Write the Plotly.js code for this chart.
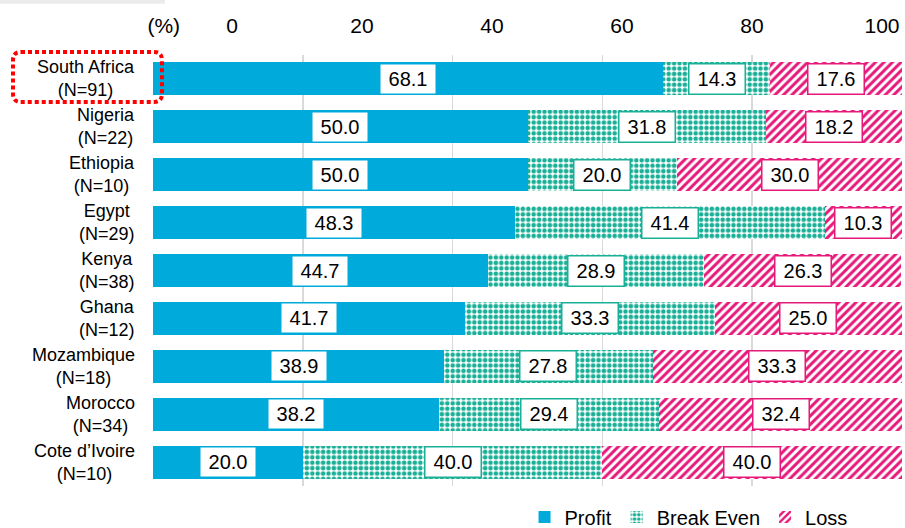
<!DOCTYPE html>
<html>
<head>
<meta charset="utf-8">
<script src="https://cdn.plot.ly/plotly-3.0.1.min.js"></script>
<style>html,body{margin:0;padding:0;background:#fff;}#chart{width:905px;height:528px;}</style>
</head>
<body>
<div id="chart"></div>
<script>
// ---- data ----
const countries = ["South Africa", "Nigeria", "Ethiopia", "Egypt", "Kenya", "Ghana", "Mozambique", "Morocco", "Cote d\u2019Ivoire"];
const sampleSizes = [91, 22, 10, 29, 38, 12, 18, 34, 10];
const profit = [68.1, 50.0, 50.0, 48.3, 44.7, 41.7, 38.9, 38.2, 20.0];
const breakEven = [14.3, 31.8, 20.0, 41.4, 28.9, 33.3, 27.8, 29.4, 40.0];
const loss = [17.6, 18.2, 30.0, 10.3, 26.3, 25.0, 33.3, 32.4, 40.0];
const seriesNames = ["Profit", "Break Even", "Loss"];
const tickValues = [0, 20, 40, 60, 80, 100];
const tickLabels = ["0", "20", "40", "60", "80", "100"];
const unitLabel = "(%)";

// ---- styling ----
const FONT = "Arial, 'Liberation Sans', sans-serif";
const cBlue = "#00AADB";
const cTeal = "#1AAF97";
const cPink = "#E6197A";

const cats = countries.map((c, i) => c + "<br>(N=" + sampleSizes[i] + ")");

const traces = [
  {type: "bar", orientation: "h", name: seriesNames[0], y: cats, x: profit,
   marker: {color: cBlue, line: {width: 0}}, hoverinfo: "skip"},
  {type: "bar", orientation: "h", name: seriesNames[1], y: cats, x: breakEven,
   marker: {color: cTeal, line: {width: 0},
            pattern: {shape: ".", fgcolor: cTeal, bgcolor: "#ffffff", size: 5.4, solidity: 0.55, fillmode: "replace"}},
   hoverinfo: "skip"},
  {type: "bar", orientation: "h", name: seriesNames[2], y: cats, x: loss,
   marker: {color: cPink, line: {width: 0},
            pattern: {shape: "/", fgcolor: cPink, bgcolor: "#ffffff", size: 6, solidity: 0.5, fillmode: "replace"}},
   hoverinfo: "skip"},
  // empty helper trace so the top (label) axis is drawn
  {type: "scatter", mode: "markers", x: [], y: [], xaxis: "x2", yaxis: "y",
   showlegend: false, hoverinfo: "skip"}
];

// value labels in boxes + category labels
const annotations = [];
const series = [profit, breakEven, loss];
const borders = [cBlue, cTeal, cPink];
cats.forEach((cat, i) => {
  let start = 0;
  series.forEach((s, k) => {
    const v = s[i];
    annotations.push({
      x: start + v / 2, y: cat, xref: "x", yref: "y",
      text: v.toFixed(1), showarrow: false,
      font: {family: FONT, size: 20, color: "#000"},
      bgcolor: "#ffffff", bordercolor: borders[k], borderwidth: 1.5, borderpad: 1,
      width: 53, height: 27, align: "center", valign: "middle"
    });
    start += v;
  });
  annotations.push({
    x: -0.0214, xref: "paper", xanchor: "right", y: cat, yref: "y", yanchor: "middle",
    text: cat, showarrow: false, align: "center",
    font: {family: FONT, size: 18, color: "#000"}
  });
});

// x2 axis: tick label positions as printed in the source chart
const x2ticks = [-10.5].concat(tickValues);
const x2text = [unitLabel].concat(tickLabels);

// dotted highlight box (paper coords)
const X0 = -0.1869, X1 = 0.012, Y0 = 0.891, Y1 = 1.007, RX = 0.0107, RY = 0.0186;
const hl = `M ${X0+RX},${Y1} L ${X1-RX},${Y1} Q ${X1},${Y1} ${X1},${Y1-RY} L ${X1},${Y0+RY} Q ${X1},${Y0} ${X1-RX},${Y0} L ${X0+RX},${Y0} Q ${X0},${Y0} ${X0},${Y0+RY} L ${X0},${Y1-RY} Q ${X0},${Y1} ${X0+RX},${Y1} Z`;

const layout = {
  width: 905, height: 528,
  margin: {l: 153, r: 3, t: 55, b: 42, autoexpand: false},
  paper_bgcolor: "#ffffff", plot_bgcolor: "#ffffff",
  font: {family: FONT, color: "#000"},
  barmode: "stack",
  bargap: 0.31,
  showlegend: true,
  legend: {orientation: "h", x: 0.715, xanchor: "center", yref: "container", y: 0.021, yanchor: "middle",
           font: {family: FONT, size: 20, color: "#000"}, traceorder: "normal", itemclick: false},
  xaxis: {range: [0, 100], tickvals: tickValues, showticklabels: false, ticks: "",
          showgrid: true, gridcolor: "#D9D9D9", gridwidth: 1.5, zeroline: false, showline: false, fixedrange: true},
  xaxis2: {overlaying: "x", anchor: "y", side: "top", range: [-12.15, 103.08],
           tickvals: x2ticks, ticktext: x2text, showgrid: false, zeroline: false, showline: false,
           ticks: "outside", ticklen: 13, tickcolor: "rgba(0,0,0,0)",
           tickfont: {family: FONT, size: 21, color: "#000"}, fixedrange: true},
  yaxis: {type: "category", autorange: "reversed", showgrid: false, zeroline: false, showline: false,
          showticklabels: false, ticks: "", fixedrange: true},
  annotations: annotations,
  shapes: [
    {type: "path", xref: "paper", yref: "paper", path: hl, layer: "above",
     line: {color: "#FF0000", width: 4, dash: "4px,3px"}, fillcolor: "rgba(0,0,0,0)"},
    {type: "rect", xref: "paper", yref: "paper", x0: -0.2043, x1: 0.016, y0: 1.119, y1: 1.1276,
     line: {width: 0}, fillcolor: "#EBEBEB", layer: "below"}
  ]
};

Plotly.newPlot("chart", traces, layout, {staticPlot: true, displayModeBar: false});
</script>
</body>
</html>
